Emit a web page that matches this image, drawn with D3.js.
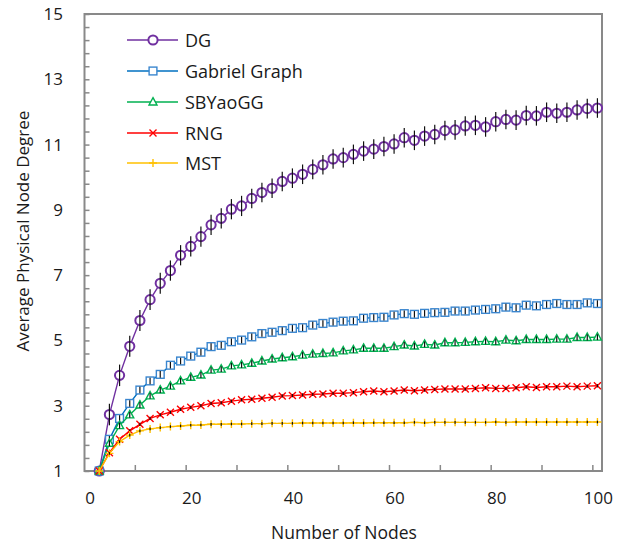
<!DOCTYPE html>
<html>
<head>
<meta charset="utf-8">
<script src="https://cdn.jsdelivr.net/npm/d3@7"></script>
<style>
  html, body { margin: 0; padding: 0; background: #fff; }
  svg { display: block; }
  text { font-family: "Open Sans", "Noto Sans", sans-serif; fill: #1a1a1a; }
</style>
</head>
<body>
<svg id="chart" width="630" height="546"></svg>
<script>
// ---------- data ----------
const nodes = [2,4,6,8,10,12,14,16,18,20,22,24,26,28,30,32,34,36,38,40,42,44,46,48,50,
               52,54,56,58,60,62,64,66,68,70,72,74,76,78,80,82,84,86,88,90,92,94,96,98,100];

const seriesNames = ["DG", "Gabriel Graph", "SBYaoGG", "RNG", "MST"];

const dgValues = [1.00,2.73,3.93,4.82,5.61,6.25,6.75,7.14,7.61,7.88,8.18,8.54,8.74,9.02,9.12,9.35,9.53,9.66,9.87,9.97,
                  10.09,10.24,10.38,10.56,10.60,10.70,10.80,10.86,10.94,11.02,11.21,11.13,11.26,11.31,11.43,11.45,11.57,11.59,11.54,11.70,
                  11.77,11.75,11.89,11.88,11.99,11.96,11.99,12.06,12.10,12.12];
const dgErr = [0.00,0.33,0.33,0.32,0.32,0.32,0.32,0.31,0.31,0.31,0.31,0.31,0.31,0.31,0.31,0.30,0.30,0.30,0.30,0.30,
               0.30,0.30,0.30,0.30,0.30,0.30,0.30,0.30,0.30,0.30,0.30,0.30,0.30,0.30,0.30,0.30,0.30,0.30,0.30,0.30,
               0.30,0.30,0.30,0.30,0.30,0.30,0.30,0.30,0.30,0.30];

const ggValues = [1.00,1.97,2.61,3.07,3.48,3.76,3.96,4.24,4.37,4.52,4.64,4.81,4.85,4.96,5.01,5.11,5.21,5.25,5.30,5.37,
                  5.39,5.47,5.52,5.56,5.59,5.60,5.68,5.70,5.71,5.78,5.82,5.80,5.83,5.85,5.86,5.90,5.90,5.93,5.95,5.97,
                  6.02,6.00,6.08,6.06,6.10,6.13,6.10,6.10,6.15,6.13];
const ggErr = [0.00,0.10,0.10,0.10,0.10,0.10,0.10,0.10,0.10,0.10,0.10,0.10,0.10,0.10,0.10,0.10,0.10,0.10,0.10,0.10,
               0.10,0.10,0.10,0.10,0.10,0.10,0.10,0.10,0.10,0.10,0.10,0.10,0.10,0.10,0.10,0.10,0.10,0.10,0.10,0.10,
               0.10,0.10,0.10,0.10,0.10,0.10,0.10,0.10,0.10,0.10];

const sbyValues = [1.00,1.85,2.39,2.72,3.02,3.30,3.48,3.60,3.76,3.87,3.94,4.09,4.12,4.22,4.25,4.30,4.37,4.43,4.47,4.50,
                   4.55,4.58,4.60,4.62,4.68,4.71,4.76,4.76,4.76,4.81,4.86,4.83,4.88,4.86,4.93,4.93,4.94,4.96,4.97,4.96,
                   5.01,4.99,5.03,5.03,5.03,5.04,5.04,5.09,5.09,5.10];
const sbyErr = [0.00,0.09,0.09,0.09,0.09,0.09,0.09,0.09,0.09,0.09,0.09,0.09,0.09,0.09,0.09,0.09,0.09,0.09,0.09,0.09,
                0.09,0.09,0.09,0.09,0.09,0.09,0.09,0.09,0.09,0.09,0.09,0.09,0.09,0.09,0.09,0.09,0.09,0.09,0.09,0.09,
                0.09,0.09,0.09,0.09,0.09,0.09,0.09,0.09,0.09,0.09];

const rngValues = [1.00,1.56,1.97,2.23,2.43,2.61,2.72,2.80,2.89,2.95,3.00,3.07,3.09,3.14,3.18,3.20,3.23,3.26,3.30,3.31,
                   3.33,3.35,3.36,3.38,3.38,3.40,3.43,3.45,3.43,3.45,3.48,3.46,3.48,3.50,3.51,3.51,3.51,3.53,3.55,3.53,
                   3.53,3.55,3.58,3.56,3.58,3.58,3.60,3.58,3.60,3.61];
const rngErr = [0.00,0.05,0.05,0.05,0.05,0.05,0.05,0.05,0.05,0.05,0.05,0.05,0.05,0.05,0.05,0.05,0.05,0.05,0.05,0.05,
                0.05,0.05,0.05,0.05,0.05,0.05,0.05,0.05,0.05,0.05,0.05,0.05,0.05,0.05,0.05,0.05,0.05,0.05,0.05,0.05,
                0.05,0.05,0.05,0.05,0.05,0.05,0.05,0.05,0.05,0.05];

const mstValues = [1.00,1.54,1.90,2.10,2.23,2.29,2.33,2.36,2.38,2.40,2.41,2.43,2.43,2.44,2.44,2.45,2.45,2.46,2.46,2.46,
                   2.47,2.47,2.47,2.47,2.47,2.48,2.47,2.48,2.48,2.48,2.48,2.49,2.48,2.49,2.49,2.49,2.49,2.49,2.49,2.50,
                   2.49,2.50,2.50,2.50,2.50,2.50,2.50,2.50,2.50,2.50];
const mstErr = [0.00,0.04,0.04,0.04,0.04,0.04,0.04,0.04,0.04,0.04,0.04,0.04,0.04,0.04,0.04,0.04,0.04,0.04,0.04,0.04,
                0.04,0.04,0.04,0.04,0.04,0.04,0.04,0.04,0.04,0.04,0.04,0.04,0.04,0.04,0.04,0.04,0.04,0.04,0.04,0.04,
                0.04,0.04,0.04,0.04,0.04,0.04,0.04,0.04,0.04,0.04];

const xTickMarks = [9,19,29,39,49,59,69,79,89,99];
const xTickLabels = [0,20,40,60,80,100];
const yTickLabels = [1,3,5,7,9,11,13,15];
const yMinorTicks = [1.4,1.8,2.2,2.6,3.4,3.8,4.2,4.6,5.4,5.8,6.2,6.6,7.4,7.8,8.2,8.6,9.4,9.8,10.2,10.6,
                     11.4,11.8,12.2,12.6,13.4,13.8,14.2,14.6];
const xTitle = "Number of Nodes";
const yTitle = "Average Physical Node Degree";

// ---------- styles ----------
const styles = [
  {line: "#7030A0", marker: "#7030A0", sym: "circle"},
  {line: "#0070C0", marker: "#3a86cf", sym: "square"},
  {line: "#00B050", marker: "#00B050", sym: "triangle"},
  {line: "#FF0000", marker: "#FF0000", sym: "x"},
  {line: "#FFC000", marker: "#FFC000", sym: "plus"}
];
const allValues = [dgValues, ggValues, sbyValues, rngValues, mstValues];
const allErr = [dgErr, ggErr, sbyErr, rngErr, mstErr];

// ---------- layout ----------
const svg = d3.select("#chart");
const L = 84.5, R = 602, T = 14, B = 471;
const x = d3.scaleLinear().domain([-0.9, 100.9]).range([L, R]);
const y = d3.scaleLinear().domain([1, 15]).range([B, T]);
const axisColor = "#898989";

// plot frame
svg.append("rect").attr("x", L).attr("y", T).attr("width", R - L).attr("height", B - T)
  .attr("fill", "none").attr("stroke", axisColor).attr("stroke-width", 2);

// x ticks (inside)
const xAxis = d3.axisBottom(x).tickValues(xTickMarks).tickSize(-6).tickFormat("");
const gx = svg.append("g").attr("transform", `translate(0,${B})`).call(xAxis);
gx.select(".domain").remove();
gx.selectAll(".tick line").attr("stroke", axisColor).attr("stroke-width", 1.5);

// x labels
svg.append("g").selectAll("text").data(xTickLabels).join("text")
  .attr("x", d => x(d) + 1).attr("y", 504)
  .attr("text-anchor", "middle").attr("font-size", 17).text(d => d);

// y ticks (inside)
const yAxis = d3.axisLeft(y).tickValues(yTickLabels.concat(yMinorTicks)).tickSize(-5).tickFormat("");
const gy = svg.append("g").attr("transform", `translate(${L},0)`).call(yAxis);
gy.select(".domain").remove();
gy.selectAll(".tick line").attr("stroke", axisColor).attr("stroke-width", 1.5);

svg.append("g").selectAll("text").data(yTickLabels).join("text")
  .attr("x", 63).attr("y", d => y(d) + 6)
  .attr("text-anchor", "end").attr("font-size", 17).text(d => d);

// axis titles
svg.append("text").attr("x", 344).attr("y", 539).attr("text-anchor", "middle")
  .attr("font-size", 17.5).text(xTitle);
svg.append("text").attr("transform", "translate(29,231) rotate(-90)").attr("text-anchor", "middle")
  .attr("font-size", 17).text(yTitle);

// ---------- marker drawing ----------
function drawMarker(g, sym, color, cx, cy) {
  if (sym === "circle") {
    g.append("circle").attr("cx", cx).attr("cy", cy).attr("r", 4.6)
      .attr("fill", "#fff").attr("stroke", color).attr("stroke-width", 2);
  } else if (sym === "square") {
    g.append("rect").attr("x", cx - 3.9).attr("y", cy - 3.9).attr("width", 7.8).attr("height", 7.8)
      .attr("fill", "#fff").attr("stroke", color).attr("stroke-width", 1.4);
  } else if (sym === "triangle") {
    g.append("path").attr("d", `M${cx},${cy - 4.4}L${cx + 4},${cy + 3}L${cx - 4},${cy + 3}Z`)
      .attr("fill", "#fff").attr("stroke", color).attr("stroke-width", 1.4);
  } else if (sym === "x") {
    g.append("path").attr("d", `M${cx - 3.5},${cy - 3.5}L${cx + 3.5},${cy + 3.5}M${cx - 3.5},${cy + 3.5}L${cx + 3.5},${cy - 3.5}`)
      .attr("stroke", color).attr("stroke-width", 1.4).attr("fill", "none");
  } else if (sym === "plus") {
    g.append("path").attr("d", `M${cx - 4},${cy}L${cx + 4},${cy}M${cx},${cy - 4}L${cx},${cy + 4}`)
      .attr("stroke", color).attr("stroke-width", 1.4).attr("fill", "none");
  }
}

// ---------- series ----------
const line = d3.line().x(d => x(d[0])).y(d => y(d[1]));
allValues.forEach((vals, si) => {
  const st = styles[si];
  const pts = nodes.map((n, i) => [n, vals[i], allErr[si][i]]);
  const g = svg.append("g");
  g.append("path").datum(pts).attr("d", line)
    .attr("fill", "none").attr("stroke", st.line).attr("stroke-width", 1.4);
  pts.forEach(p => drawMarker(g, st.sym, st.marker, x(p[0]), y(p[1])));
  g.selectAll("line.err").data(pts.filter(p => p[2] > 0)).join("line")
    .attr("class", "err")
    .attr("x1", p => x(p[0])).attr("x2", p => x(p[0]))
    .attr("y1", p => y(p[1] - p[2])).attr("y2", p => y(p[1] + p[2]))
    .attr("stroke", "#111").attr("stroke-width", 1.2);
});

// ---------- legend ----------
const legendY = [40, 71, 102, 133, 163];
const lg = svg.append("g");
seriesNames.forEach((name, i) => {
  const st = styles[i];
  lg.append("line").attr("x1", 127).attr("x2", 178).attr("y1", legendY[i]).attr("y2", legendY[i])
    .attr("stroke", st.line).attr("stroke-width", 1.4);
  drawMarker(lg, st.sym, st.marker, 153, legendY[i]);
  lg.append("text").attr("x", 185).attr("y", legendY[i] + 6.5).attr("font-size", 18).text(name);
});
</script>
</body>
</html>
